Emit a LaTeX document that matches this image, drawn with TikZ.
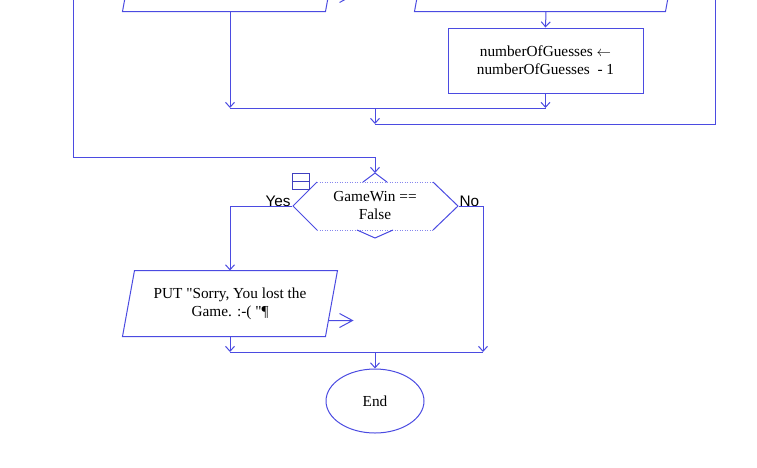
\documentclass[tikz,border=0pt]{standalone}
\usepackage{fontspec}
\setmainfont{Liberation Serif}
\newfontfamily\labelfont{Liberation Sans}
\usetikzlibrary{arrows.meta}
\usetikzlibrary{shapes.geometric}

\definecolor{flowblue}{RGB}{75,75,225}
\definecolor{dotblue}{RGB}{135,135,238}

\begin{document}
\begin{tikzpicture}[x=1pt, y=-1pt, line width=1pt,
	every node/.style={inner sep=0pt, font=\fontsize{15.3}{18}\selectfont, align=center},
	wire/.style={draw=flowblue},
	flow/.style={draw=flowblue, -{Straight Barb[length=5pt,width=9pt]}},
	io/.style={rectangle, minimum height=65},
	proc/.style={rectangle, draw=flowblue, minimum width=195, minimum height=65},
	yn/.style={font=\labelfont\fontsize{15.3}{17}\selectfont}]
		\useasboundingbox (0,0) rectangle (757,467);
		\clip (0,0) rectangle (757,467);
		%Top row (cut off by the frame)
		\node [io, minimum width=202] (putTop) at (230,-21.5) {};
		\draw [wire] ([xshift=-6]putTop.south west) -- ([xshift=-6]putTop.south east) -- ([xshift=6]putTop.north east) -- ([xshift=6]putTop.north west) -- cycle;
		\draw [wire] ([shift={(-3,-16)}]putTop.south east) -- ++(24,0) ++(-13,-7) -- ++(13,7) -- ++(-13,7);
		\node [io, minimum width=250] (putRight) at (546,-21.5) {};
		\draw [wire] ([xshift=-6]putRight.south west) -- ([xshift=-6]putRight.south east) -- ([xshift=6]putRight.north east) -- ([xshift=6]putRight.north west) -- cycle;
		\node [proc] (dec) at (545.5,60.5) {numberOfGuesses $\leftarrow$\\numberOfGuesses\ \ - 1};
		\draw [flow] (putRight.south) -- (dec.north);
		%Junctions
		\coordinate (j1l) at (230,108);
		\coordinate (j1m) at (375,108);
		\coordinate (j1r) at (545.5,108);
		\coordinate (j2m) at (375,124);
		\coordinate (j2r) at (715,124);
		\coordinate (loopTop) at (715,-10);
		\draw [flow] (putTop.south) -- (j1l);
		\draw [flow] (dec.south) -- (j1r);
		\draw [wire] (j1l) -- (j1r);
		\draw [flow] (j1m) -- (j2m);
		\draw [wire] (j2m) -- (j2r) -- (loopTop);
		%Decision
		\node [minimum width=165, minimum height=48] (cond) at (375,206) {GameWin ==\\False};
		\begin{scope}[shift={(cond.center)}]
			\draw [wire] (-58,-24) -- (-82,0) -- (-58,24);
			\draw [wire] (58,-24) -- (83,0) -- (58,24);
			\draw [draw=dotblue, line width=0.8pt, dash pattern=on 1pt off 1.5pt] (-58,-24) -- (58,-24);
			\draw [draw=dotblue, line width=0.8pt, dash pattern=on 1pt off 1.5pt] (-58,24) -- (58,24);
			\draw [wire] (-12,-24) -- (0,-33) -- (12,-24);
			\draw [wire] (-18,24) -- (0,32) -- (18,24);
		\end{scope}
		\coordinate (condTop) at (375,173);
		\coordinate (inTop) at (73,-10);
		\coordinate (inCorner) at (73,157);
		\draw [flow] (inTop) -- (inCorner) -| (condTop);
		\node [rectangle, draw=flowblue!85!black, fill=white, minimum width=17, minimum height=16] (mark) at (300.5,181) {};
		\draw [draw=flowblue!85!black] (mark.west) -- (mark.east);
		\node [yn, anchor=base east] (yes) at (291,206) {Yes};
		\node [yn, anchor=base west] (no) at (459,206) {No};
		%Lost message
		\node [io, minimum width=202] (lose) at (230,303.5) {PUT \textquotedbl Sorry, You lost the\\Game. :-( \textquotedbl¶};
		\draw [wire] ([xshift=-6]lose.south west) -- ([xshift=-6]lose.south east) -- ([xshift=6]lose.north east) -- ([xshift=6]lose.north west) -- cycle;
		\draw [wire] ([shift={(-3,-16)}]lose.south east) -- ++(24,0) ++(-13,-7) -- ++(13,7) -- ++(-13,7);
		\coordinate (jYes) at (230,352);
		\coordinate (jMid) at (375,352);
		\coordinate (jNo) at (483,352);
		\draw [flow] ([xshift=-0.5]cond.west) -| (lose.north);
		\draw [flow] ([xshift=0.5]cond.east) -| (jNo);
		\draw [flow] (lose.south) -- (jYes);
		\draw [wire] (jYes) -- (jNo);
		%End
		\node [ellipse, draw=flowblue, minimum width=98, minimum height=64] (end) at (375,401) {End};
		\draw [flow] (jMid) -- (end.north);
\end{tikzpicture}
\end{document}
